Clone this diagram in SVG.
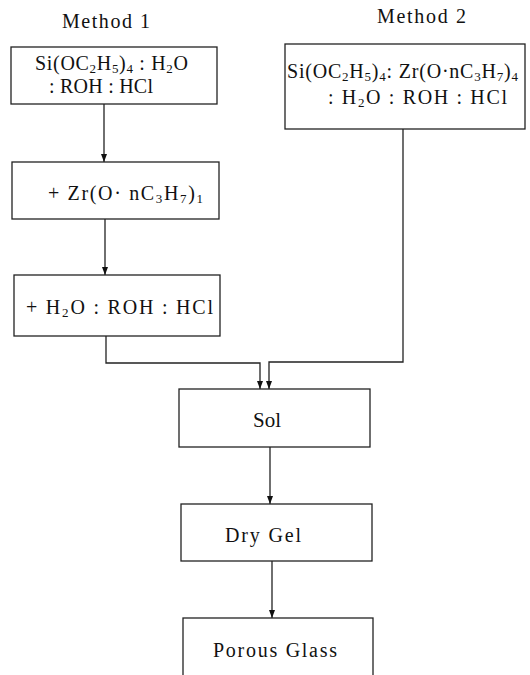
<svg xmlns="http://www.w3.org/2000/svg" width="530" height="675" viewBox="0 0 530 675">
<defs>
<style>
.box{fill:#fff;stroke:#222;stroke-width:1.3}
.ln{fill:none;stroke:#222;stroke-width:1.3}
text{font-family:"Liberation Serif","Times New Roman",serif;font-size:20px;fill:#111}
.s{font-size:13px}
</style>
<marker id="ah" viewBox="0 0 8 6" refX="8" refY="3" markerWidth="8" markerHeight="6" markerUnits="userSpaceOnUse" orient="auto">
<path d="M0,0 L8,3 L0,6 Z" fill="#111"/>
</marker>
</defs>
<rect width="530" height="675" fill="#fff"/>
<text x="62" y="28" textLength="88" lengthAdjust="spacing">Method  1</text>
<text x="377" y="23" textLength="89" lengthAdjust="spacing">Method  2</text>
<g id="connectors">
<line class="ln" x1="104" y1="104" x2="104" y2="162" marker-end="url(#ah)"/>
<line class="ln" x1="105" y1="219" x2="105" y2="275" marker-end="url(#ah)"/>
<polyline class="ln" points="106,336 106,363 260,363 260,389" marker-end="url(#ah)"/>
<polyline class="ln" points="403,129 403,362 269,362 269,389" marker-end="url(#ah)"/>
<line class="ln" x1="270" y1="447" x2="270" y2="504" marker-end="url(#ah)"/>
<line class="ln" x1="272" y1="561" x2="272" y2="618" marker-end="url(#ah)"/>
</g>
<g id="n1">
<rect class="box" x="11" y="47" width="206" height="57"/>
<text x="35" y="70" textLength="153" lengthAdjust="spacing">Si(OC<tspan class="s" dy="3">2</tspan><tspan dy="-3">H</tspan><tspan class="s" dy="3">5</tspan><tspan dy="-3">)</tspan><tspan class="s" dy="3">4</tspan><tspan dy="-3"> : H</tspan><tspan class="s" dy="3">2</tspan><tspan dy="-3">O</tspan></text>
<text x="49" y="93" textLength="104" lengthAdjust="spacing">: ROH : HCl</text>
</g>
<g id="n2">
<rect class="box" x="285" y="44" width="240" height="85"/>
<text x="287" y="78" textLength="231" lengthAdjust="spacing">Si(OC<tspan class="s" dy="3">2</tspan><tspan dy="-3">H</tspan><tspan class="s" dy="3">5</tspan><tspan dy="-3">)</tspan><tspan class="s" dy="3">4</tspan><tspan dy="-3">: Zr(O·nC</tspan><tspan class="s" dy="3">3</tspan><tspan dy="-3">H</tspan><tspan class="s" dy="3">7</tspan><tspan dy="-3">)</tspan><tspan class="s" dy="3">4</tspan></text>
<text x="328" y="104" textLength="179" lengthAdjust="spacing">: H<tspan class="s" dy="3">2</tspan><tspan dy="-3">O : ROH : HCl</tspan></text>
</g>
<g id="n3">
<rect class="box" x="12" y="162" width="207" height="57"/>
<text x="48" y="200" textLength="155" lengthAdjust="spacing">+ Zr(O· nC<tspan class="s" dy="3">3</tspan><tspan dy="-3">H</tspan><tspan class="s" dy="3">7</tspan><tspan dy="-3">)</tspan><tspan class="s" dy="3">1</tspan></text>
</g>
<g id="n4">
<rect class="box" x="14" y="275" width="206" height="61"/>
<text x="26" y="314" textLength="187" lengthAdjust="spacing">+ H<tspan class="s" dy="3">2</tspan><tspan dy="-3">O : ROH : HCl</tspan></text>
</g>
<g id="sol">
<rect class="box" x="179" y="389" width="191" height="58"/>
<text x="253" y="427" textLength="28" lengthAdjust="spacingAndGlyphs">Sol</text>
</g>
<g id="drygel">
<rect class="box" x="181" y="504" width="191" height="57"/>
<text x="225" y="542" textLength="76" lengthAdjust="spacing">Dry  Gel</text>
</g>
<g id="porous">
<rect class="box" x="183" y="618" width="190" height="70"/>
<text x="213" y="657" textLength="124" lengthAdjust="spacing">Porous  Glass</text>
</g>
</svg>
